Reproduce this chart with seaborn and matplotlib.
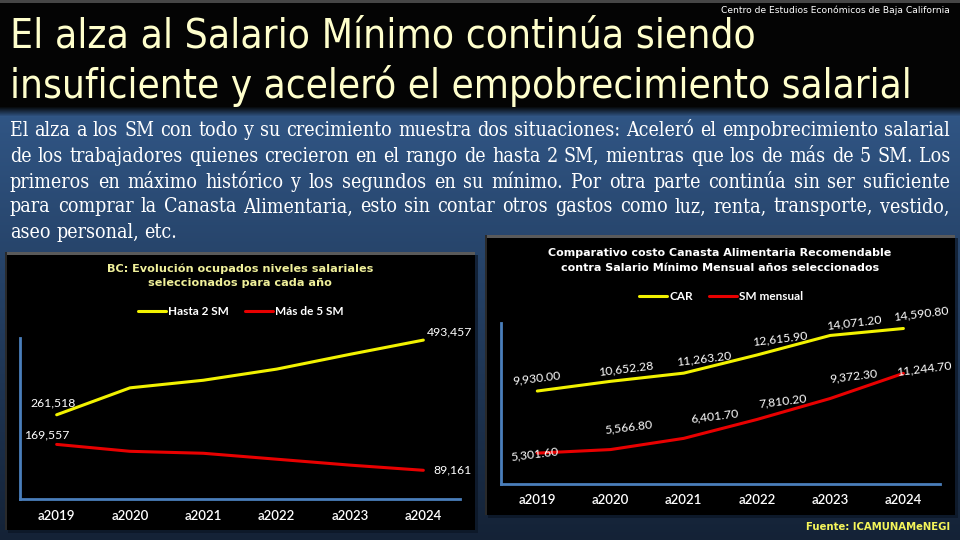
import numpy as np
import pandas as pd
import matplotlib
matplotlib.use("Agg")
import matplotlib.pyplot as plt
import seaborn as sns
from matplotlib import font_manager as fm
from matplotlib.patches import Rectangle

# ---------------- data ----------------
years = ["a2019", "a2020", "a2021", "a2022", "a2023", "a2024"]
hasta_2sm = [261518, 345200, 368800, 403400, 449300, 493457]
mas_5sm = [169557, 148100, 142000, 123600, 105200, 89161]
left_series = ["Hasta 2 SM", "Más de 5 SM"]

car = [9930.00, 10652.28, 11263.20, 12615.90, 14071.20, 14590.80]
sm_mensual = [5301.60, 5566.80, 6401.70, 7810.20, 9372.30, 11244.70]
right_series = ["CAR", "SM mensual"]

title_lines = ["El alza al Salario Mínimo continúa siendo",
               "insuficiente y aceleró el empobrecimiento salarial"]
paragraph = [
    "El alza a los SM con todo y su crecimiento muestra dos situaciones: Aceleró el empobrecimiento salarial",
    "de los trabajadores quienes crecieron en el rango de hasta 2 SM, mientras que los de más de 5 SM. Los",
    "primeros en máximo histórico y los segundos en su mínimo. Por otra parte continúa sin ser suficiente",
    "para comprar la Canasta Alimentaria, esto sin contar otros gastos como luz, renta, transporte, vestido,",
    "aseo personal, etc.",
]
credit = "Centro de Estudios Económicos de Baja California"
source = "Fuente: ICAMUNAMeNEGI"
left_title = ["BC: Evolución ocupados niveles salariales", "seleccionados para cada año"]
right_title = ["Comparativo costo Canasta Alimentaria Recomendable",
               "contra Salario Mínimo Mensual años seleccionados"]

# ---------------- style ----------------
sns.set_theme(style="white")
avail = {f.name for f in fm.fontManager.ttflist}


def pick(*names):
    for n in names:
        if n in avail:
            return n
    return "DejaVu Sans"


def narrow_font(keys, fallback):
    """Find an installed condensed / narrow regular face whose family matches keys."""
    for key in keys:
        for f in fm.fontManager.ttflist:
            nm = f.name
            cond = ("Narrow" in nm or "Condensed" in nm or
                    str(f.stretch) in ("condensed", "semi-condensed", "extra-condensed")
                    or "Condensed" in f.fname or "Narrow" in f.fname)
            if key in nm and cond and f.style == "normal" and f.weight in (400, "normal", "regular"):
                return fm.FontProperties(fname=f.fname)
    return fm.FontProperties(family=fallback)


CAL = pick("Lato", "Open Sans", "Noto Sans")
TITLE_FP = narrow_font(["Liberation Sans", "DejaVu Sans", "Roboto", "Noto Sans", "Open Sans"],
                       [pick("Roboto", "Lato"), "DejaVu Sans"])
PARA_FP = narrow_font(["DejaVu Serif", "Liberation Serif", "Noto Serif"],
                      [pick("Liberation Serif", "DejaVu Serif"), "DejaVu Serif"])
plt.rcParams["font.family"] = [CAL, "DejaVu Sans"]

YELLOW = "#F2F200"
RED = "#E80000"
SPINE = "#4A7EBB"

W, H = 960, 540
fig = plt.figure(figsize=(9.6, 5.4), dpi=100)
renderer = fig.canvas.get_renderer()

# ---------------- background ----------------
bg = np.zeros((H, W, 3))
top_blue = np.array([48, 85, 132]) / 255
bot_blue = np.array([20, 34, 54]) / 255
for r in range(H):
    if r < 3:
        bg[r] = np.array([70, 70, 70]) / 255
    elif r < 106:
        bg[r] = np.array([4, 4, 4]) / 255
    elif r < 116:
        t = (r - 106) / 10
        bg[r] = (1 - t) * np.array([4, 4, 4]) / 255 + t * top_blue
    else:
        t = (r - 116) / (H - 116)
        bg[r] = (1 - t) * top_blue + t * bot_blue
ax_bg = fig.add_axes([0, 0, 1, 1])
ax_bg.imshow(bg, extent=[0, W, H, 0], aspect="auto", interpolation="bilinear")
ax_bg.set_xlim(0, W)
ax_bg.set_ylim(H, 0)
ax_bg.axis("off")

# chart panels
for (x0, y0, x1, y1) in [(5, 252, 475, 530), (485, 235, 955, 515)]:
    ax_bg.add_patch(Rectangle((x0 + 3, y0 + 3), x1 - x0, y1 - y0, color="#0b1524", alpha=0.7, lw=0))
    ax_bg.add_patch(Rectangle((x0, y0), x1 - x0, y1 - y0, color="#000000", lw=0))
    ax_bg.add_patch(Rectangle((x0, y0), x1 - x0, 3, color="#5a5a5a", lw=0))
    ax_bg.add_patch(Rectangle((x0, y0), 2, y1 - y0, color="#2a2a2a", lw=0))


def px(x, y):
    return x / W, 1 - y / H


def fit_text(x, y, s, width, size0=12, ha="left", va="center", **kw):
    t = fig.text(*px(x, y), s, fontsize=size0, ha=ha, va=va, **kw)
    w = t.get_window_extent(renderer).width
    t.set_fontsize(size0 * width / w)
    return t


# ---------------- header ----------------
fit_text(10, 36, title_lines[0], 745, ha="left", color="#FFFFCC", fontproperties=TITLE_FP.copy())
fit_text(10, 86, title_lines[1], 902, ha="left", color="#FFFFCC", fontproperties=TITLE_FP.copy())
fit_text(950, 10, credit, 225, ha="right", color="white", family=["DejaVu Sans"])

# justified paragraph
size0 = 14
nat = []
for line in paragraph[:-1]:
    t = fig.text(0, 0, line, fontproperties=PARA_FP.copy())
    t.set_fontsize(size0)
    nat.append(t.get_window_extent(renderer).width)
    t.remove()
psize = size0 * 936 / max(nat)
ys = [131, 156, 182, 207, 232]


def ptext(s, x=0, y=0):
    t = fig.text(x, y, s, va="center", ha="left", color="white",
                 fontproperties=PARA_FP.copy())
    t.set_fontsize(psize)
    return t


for i, line in enumerate(paragraph):
    y = ys[i]
    words = line.split()
    texts, widths = [], []
    for wd in words:
        t = ptext(wd, 0, 1 - y / H)
        widths.append(t.get_window_extent(renderer).width)
        texts.append(t)
    if i < len(paragraph) - 1:
        gap = (950 - 10 - sum(widths)) / (len(words) - 1)
    else:
        sp = ptext("a a")
        a1 = ptext("aa")
        gap = sp.get_window_extent(renderer).width - a1.get_window_extent(renderer).width
        sp.remove()
        a1.remove()
    x = 10
    for t, wd in zip(texts, widths):
        t.set_x(x / W)
        x += wd + gap


# ---------------- charts ----------------
def style_ax(ax, ylim, pad):
    ax.set_facecolor("none")
    ax.set_xlim(-0.5, 5.5)
    ax.set_ylim(*ylim)
    for s in ["top", "right"]:
        ax.spines[s].set_visible(False)
    for s in ["left", "bottom"]:
        ax.spines[s].set_color(SPINE)
        ax.spines[s].set_linewidth(2)
    ax.set_yticks([])
    ax.set_xticks(range(len(years)))
    ax.set_xticklabels(years, color="white", fontsize=9.5, fontfamily=CAL, fontweight="semibold")
    ax.tick_params(axis="x", length=0, pad=pad)
    ax.set_xlabel("")
    ax.set_ylabel("")
    ax.grid(False)


def legend(ax, yanch):
    h, l = ax.get_legend_handles_labels()
    leg = ax.legend(h, l, loc="center", bbox_to_anchor=(0.502, yanch), ncol=2, frameon=False,
                    handlelength=2.4, handletextpad=0.2, columnspacing=1.3,
                    prop=dict(family=CAL, weight="bold", size=8.5))
    for t in leg.get_texts():
        t.set_color("white")


k = 0.72

# left chart
axL = fig.add_axes([20 / W, 1 - 499 / H, 440 / W, 161 / H])
dfL = pd.DataFrame({"year": years * 2,
                    "value": hasta_2sm + mas_5sm,
                    "serie": [left_series[0]] * 6 + [left_series[1]] * 6})
sns.lineplot(data=dfL, x="year", y="value", hue="serie", palette=[YELLOW, RED],
             linewidth=2.2, ax=axL, sort=False)
style_ax(axL, (0, 500000), 8)
legend(axL, 1.163)
left_labels = [(hasta_2sm, 0, (-4, -12)), (hasta_2sm, 5, (26, -8)),
               (mas_5sm, 0, (-10, -9)), (mas_5sm, 5, (29, 0))]
for ser, i, (dx, dy) in left_labels:
    axL.annotate(f"{ser[i]:,.0f}", xy=(i, ser[i]), xytext=(dx * k, -dy * k),
                 textcoords="offset points", ha="center", va="center",
                 color="white", fontsize=8.8, family=CAL)
t = fit_text(240, 269, left_title[0], 264, ha="center", color="#F0F09A",
             family=["DejaVu Sans"], weight="bold")
fig.text(*px(240, 283.5), left_title[1], ha="center", va="center", color="#F0F09A",
         family=["DejaVu Sans"], weight="bold", fontsize=t.get_fontsize())

# right chart
axR = fig.add_axes([500.7 / W, 1 - 484 / H, 439.3 / W, 161 / H])
dfR = pd.DataFrame({"year": years * 2,
                    "value": car + sm_mensual,
                    "serie": [right_series[0]] * 6 + [right_series[1]] * 6})
sns.lineplot(data=dfR, x="year", y="value", hue="serie", palette=[YELLOW, RED],
             linewidth=2.2, ax=axR, sort=False)
style_ax(axR, (3000, 15000), 7.5)
legend(axR, 1.165)
off_car = [(-1, -13), (15, -13), (20, -15), (23, -16), (24, -13), (18, -15)]
off_sm = [(-3, 1), (18, -23), (31, -22), (26, -18), (23, -22), (21, -5)]
for ser, offs in [(car, off_car), (sm_mensual, off_sm)]:
    for i, v in enumerate(ser):
        dx, dy = offs[i]
        axR.annotate(f"{v:,.2f}", xy=(i, v), xytext=(dx * k, -dy * k),
                     textcoords="offset points", ha="center", va="center",
                     color="white", fontsize=8.8, family=CAL, rotation=7)
t = fit_text(720, 253.5, right_title[0], 343, ha="center", color="white",
             family=["DejaVu Sans"], weight="bold")
fig.text(*px(720, 268), right_title[1], ha="center", va="center", color="white",
         family=["DejaVu Sans"], weight="bold", fontsize=t.get_fontsize())

# footer
fit_text(950, 527.5, source, 144, ha="right", color="#F5F55A", family=["DejaVu Sans"], weight="bold")

fig.savefig("out.png", dpi=100)
